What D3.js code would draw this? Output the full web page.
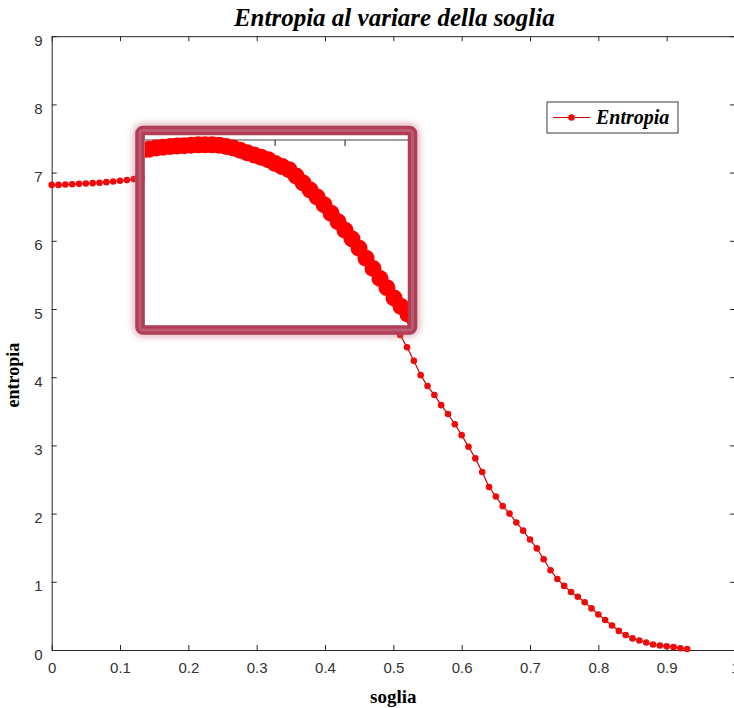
<!DOCTYPE html>
<html>
<head>
<meta charset="utf-8">
<script src="https://cdn.jsdelivr.net/npm/d3@7"></script>
<style>
  html, body { margin: 0; padding: 0; background: #fff; }
  svg { display: block; }
  .tick text { font-family: "Liberation Sans", Arial, sans-serif; font-size: 15px; fill: #333; }
</style>
</head>
<body>
<svg id="chart" width="734" height="708"></svg>
<script>
// Entropy of the thresholded image as a function of the threshold (soglia)
const soglia = [
  0.00, 0.01, 0.02, 0.03, 0.04, 0.05, 0.06, 0.07, 0.08, 0.09,
  0.10, 0.11, 0.12, 0.13, 0.14, 0.15, 0.16, 0.17, 0.18, 0.19,
  0.20, 0.21, 0.22, 0.23, 0.24, 0.25, 0.26, 0.27, 0.28, 0.29,
  0.30, 0.31, 0.32, 0.33, 0.34, 0.35, 0.36, 0.37, 0.38, 0.39,
  0.40, 0.41, 0.42, 0.43, 0.44, 0.45, 0.46, 0.47, 0.48, 0.49,
  0.50, 0.51, 0.52, 0.53, 0.54, 0.55, 0.56, 0.57, 0.58, 0.59,
  0.60, 0.61, 0.62, 0.63, 0.64, 0.65, 0.66, 0.67, 0.68, 0.69,
  0.70, 0.71, 0.72, 0.73, 0.74, 0.75, 0.76, 0.77, 0.78, 0.79,
  0.80, 0.81, 0.82, 0.83, 0.84, 0.85, 0.86, 0.87, 0.88, 0.89,
  0.90, 0.91, 0.92, 0.93
];
const entropia = [
  6.82, 6.82, 6.825, 6.83, 6.835, 6.84, 6.845, 6.85, 6.86, 6.87,
  6.88, 6.89, 6.905, 6.92, 6.93, 6.94, 6.945, 6.95, 6.955, 6.96,
  6.96, 6.96, 6.955, 6.94, 6.92, 6.89, 6.86, 6.83, 6.80, 6.77,
  6.72, 6.68, 6.64, 6.56, 6.47, 6.38, 6.29, 6.19, 6.08, 5.97,
  5.86, 5.75, 5.63, 5.50, 5.37, 5.24, 5.12, 4.99, 4.88, 4.78,
  4.70, 4.62, 4.44, 4.24, 4.03, 3.87, 3.74, 3.59, 3.46, 3.31,
  3.15, 2.98, 2.81, 2.61, 2.39, 2.25, 2.11, 2.00, 1.87, 1.75,
  1.62, 1.49, 1.33, 1.17, 1.04, 0.94, 0.85, 0.78, 0.70, 0.61,
  0.52, 0.44, 0.36, 0.28, 0.22, 0.17, 0.14, 0.11, 0.08, 0.065,
  0.055, 0.045, 0.025, 0.015
];
const xTicks = [0, 0.1, 0.2, 0.3, 0.4, 0.5, 0.6, 0.7, 0.8, 0.9, 1];
const yTicks = [0, 1, 2, 3, 4, 5, 6, 7, 8, 9];
const xDomain = [0, 1];
const yDomain = [0, 9];
// magnified window: data extent shown and the two ticks on its top edge
const zoomX = [0.114, 0.49];
const zoomY = [4.616, 7.087];
const zoomTicks = [0.3, 0.4];

const titleText = "Entropia al variare della soglia";
const xLabel = "soglia";
const yLabel = "entropia";
const seriesName = "Entropia";

const data = soglia.map((s, i) => ({ s, e: entropia[i] }));

const svg = d3.select("#chart");
const axisColor = "#262626";
const red = "#ee0a0a";
const serif = "Liberation Serif, Times New Roman, serif";

const plot = { left: 51.7, right: 735, top: 36.2, bottom: 650 };
const x = d3.scaleLinear().domain(xDomain).range([plot.left, plot.right]);
const y = d3.scaleLinear().domain(yDomain).range([plot.bottom, plot.top]);

const fmt = d => (d === 0 || d === 1) ? String(d) : d.toFixed(1);

// axes (box with inward ticks on all sides)
const gx = svg.append("g").attr("transform", `translate(0,${plot.bottom})`)
  .call(d3.axisBottom(x).tickValues(xTicks).tickFormat(fmt).tickSize(-5).tickSizeOuter(0).tickPadding(12));
const gxTop = svg.append("g").attr("transform", `translate(0,${plot.top})`)
  .call(d3.axisTop(x).tickValues(xTicks).tickFormat("").tickSize(-5).tickSizeOuter(0));
const gy = svg.append("g").attr("transform", `translate(${plot.left},0)`)
  .call(d3.axisLeft(y).tickValues(yTicks).tickFormat(d3.format("d")).tickSize(-5).tickSizeOuter(0).tickPadding(9));
const gyRight = svg.append("g").attr("transform", `translate(${plot.right},0)`)
  .call(d3.axisRight(y).tickValues(yTicks).tickFormat("").tickSize(-5).tickSizeOuter(0));
[gx, gxTop, gy, gyRight].forEach(g => {
  g.select(".domain").attr("stroke", axisColor).attr("stroke-width", 1);
  g.selectAll(".tick line").attr("stroke", axisColor).attr("stroke-width", 1);
});
gy.selectAll(".tick text").attr("dy", "0.6em");

// curve
const line = d3.line().x(d => x(d.s)).y(d => y(d.e));
svg.append("path").datum(data)
  .attr("d", line).attr("fill", "none").attr("stroke", "#cc0000").attr("stroke-width", 1.2);
svg.append("g").selectAll("circle").data(data).join("circle")
  .attr("cx", d => x(d.s)).attr("cy", d => y(d.e)).attr("r", 3.3).attr("fill", red);

// magnified window
const win = { left: 145, right: 408, top: 135, bottom: 327 };
const xi = d3.scaleLinear().domain(zoomX).range([win.left, win.right]);
const yi = d3.scaleLinear().domain(zoomY).range([win.bottom, win.top]);

const defs = svg.append("defs");
defs.append("clipPath").attr("id", "winClip").append("rect")
  .attr("x", win.left).attr("y", win.top)
  .attr("width", win.right - win.left).attr("height", win.bottom - win.top);
const glow = defs.append("filter").attr("id", "glow")
  .attr("x", "-10%").attr("y", "-10%").attr("width", "120%").attr("height", "120%");
glow.append("feGaussianBlur").attr("stdDeviation", 3.5);

const frame = { x: 140, y: 130.5, w: 272.5, h: 199.5 };
svg.append("rect").attr("x", frame.x).attr("y", frame.y).attr("width", frame.w).attr("height", frame.h)
  .attr("rx", 3).attr("fill", "none").attr("stroke", "#c4667a").attr("stroke-width", 14)
  .attr("opacity", 0.5).attr("filter", "url(#glow)");
svg.append("rect").attr("x", win.left).attr("y", win.top)
  .attr("width", win.right - win.left).attr("height", win.bottom - win.top).attr("fill", "#fff");

const zg = svg.append("g").attr("clip-path", "url(#winClip)");
const zAxisY = win.top + 5;
zg.append("line").attr("x1", win.left).attr("x2", win.right)
  .attr("y1", zAxisY).attr("y2", zAxisY).attr("stroke", "#404040").attr("stroke-width", 1.2);
zg.selectAll("line.ztick").data(zoomTicks).join("line").attr("class", "ztick")
  .attr("x1", d => xi(d)).attr("x2", d => xi(d))
  .attr("y1", zAxisY).attr("y2", zAxisY + 6).attr("stroke", "#404040").attr("stroke-width", 1.2);
const lineZ = d3.line().x(d => xi(d.s)).y(d => yi(d.e));
zg.append("path").datum(data).attr("d", lineZ).attr("fill", "none")
  .attr("stroke", "#e00000").attr("stroke-width", 4);
zg.append("g").selectAll("circle").data(data).join("circle")
  .attr("cx", d => xi(d.s)).attr("cy", d => yi(d.e)).attr("r", 8.5).attr("fill", "#ff0000");

svg.append("rect").attr("x", frame.x).attr("y", frame.y).attr("width", frame.w).attr("height", frame.h)
  .attr("rx", 3).attr("fill", "none").attr("stroke", "#b03e56").attr("stroke-width", 9.5);
svg.append("rect").attr("x", frame.x).attr("y", frame.y).attr("width", frame.w).attr("height", frame.h)
  .attr("rx", 3).attr("fill", "none").attr("stroke", "#c9788a").attr("stroke-width", 3).attr("opacity", 0.5);

// legend
const lg = svg.append("g").attr("transform", "translate(547,102)");
lg.append("rect").attr("width", 131).attr("height", 31).attr("fill", "#fff")
  .attr("stroke", axisColor).attr("stroke-width", 0.9);
lg.append("line").attr("x1", 6).attr("x2", 43).attr("y1", 15.5).attr("y2", 15.5)
  .attr("stroke", "#cc0000").attr("stroke-width", 1.2);
lg.append("circle").attr("cx", 24.5).attr("cy", 15.5).attr("r", 3.3).attr("fill", red);
lg.append("text").attr("x", 49).attr("y", 22).text(seriesName)
  .attr("font-family", serif).attr("font-weight", "bold")
  .attr("font-style", "italic").attr("font-size", 20).attr("fill", "#000");

// titles
svg.append("text").attr("x", (plot.left + plot.right) / 2 + 1).attr("y", 26).attr("text-anchor", "middle")
  .text(titleText).attr("font-family", serif)
  .attr("font-weight", "bold").attr("font-style", "italic").attr("font-size", 25).attr("fill", "#000");
svg.append("text").attr("x", (plot.left + plot.right) / 2).attr("y", 703).attr("text-anchor", "middle")
  .text(xLabel).attr("font-family", serif)
  .attr("font-weight", "bold").attr("font-size", 19).attr("fill", "#000");
svg.append("text").attr("transform", `translate(19,${(plot.top + plot.bottom) / 2 + 32}) rotate(-90)`)
  .attr("text-anchor", "middle").text(yLabel)
  .attr("font-family", serif)
  .attr("font-weight", "bold").attr("font-size", 18).attr("fill", "#000");
</script>
</body>
</html>
